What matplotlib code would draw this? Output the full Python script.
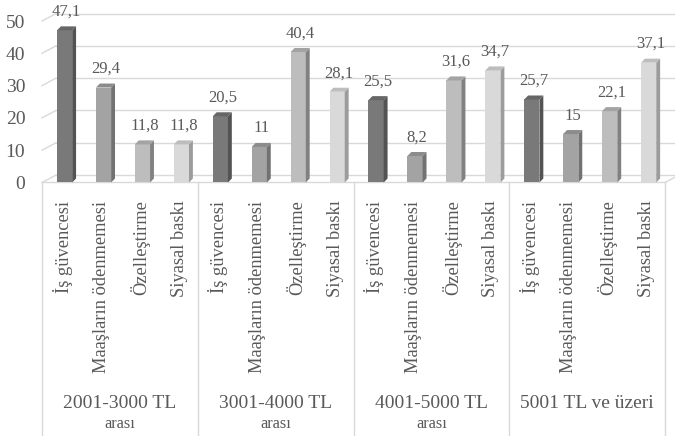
import matplotlib
matplotlib.use("Agg")
import matplotlib.pyplot as plt
from matplotlib.patches import Polygon

plt.rcParams['font.family'] = ['Liberation Serif', 'DejaVu Serif']

groups = ["2001-3000 TL", "3001-4000 TL", "4001-5000 TL", "5001 TL ve üzeri"]
group_sub = ["arası", "arası", "arası", ""]
categories = ["İş güvencesi", "Maaşların ödenmemesi", "Özelleştirme", "Siyasal baskı"]
values = [
    [47.1, 29.4, 11.8, 11.8],
    [20.5, 11, 40.4, 28.1],
    [25.5, 8.2, 31.6, 34.7],
    [25.7, 15, 22.1, 37.1],
]
yticks = [0, 10, 20, 30, 40, 50]

front_cols = ['#797979', '#a3a3a3', '#bdbdbd', '#d9d9d9']
side_cols = ['#535353', '#727272', '#818181', '#9c9c9c']
top_cols = ['#666666', '#8c8c8c', '#a3a3a3', '#bdbdbd']
txt = '#595959'
grid = '#d9d9d9'

W, H = 675, 436
fig = plt.figure(figsize=(W / 100, H / 100), dpi=100)
ax = fig.add_axes([42 / W, (H - 182.5) / H, 623 / W, 161.5 / H])
n = len(groups) * len(categories)
ax.set_xlim(-0.5, n - 0.5)
ax.set_ylim(0, 50)
for s in ax.spines.values():
    s.set_visible(False)
ax.set_xticks([])
ax.set_yticks(yticks)
ax.set_yticklabels([str(t) for t in yticks], fontsize=14, color=txt)
ax.tick_params(axis='y', length=0, pad=12)

# back wall offset (3D look)
wdx, wdy = 0.36, 2.3
for t in yticks:
    ax.plot([-0.5, -0.5 + wdx], [t, t + wdy], color=grid, lw=1, clip_on=False, zorder=1)
    ax.plot([-0.5 + wdx, n - 0.5 + wdx], [t + wdy, t + wdy], color=grid, lw=1, clip_on=False, zorder=1)
# floor
ax.plot([-0.5, n - 0.5], [0, 0], color=grid, lw=1, clip_on=False, zorder=1)
ax.plot([n - 0.5, n - 0.5 + wdx], [0, wdy], color=grid, lw=1, clip_on=False, zorder=1)

# bars
bw, bdx, bdy = 0.39, 0.10, 1.24
for g, vals in enumerate(values):
    for c, v in enumerate(vals):
        i = g * len(categories) + c
        x0 = i + 0.08 - bw / 2
        x1 = x0 + bw
        ax.add_patch(Polygon([(x0, 0), (x1, 0), (x1, v), (x0, v)], closed=True,
                             fc=front_cols[c], ec='none', zorder=3, clip_on=False))
        ax.add_patch(Polygon([(x1, 0), (x1 + bdx, bdy), (x1 + bdx, v + bdy), (x1, v)], closed=True,
                             fc=side_cols[c], ec='none', zorder=3, clip_on=False))
        ax.add_patch(Polygon([(x0, v), (x1, v), (x1 + bdx, v + bdy), (x0 + bdx, v + bdy)], closed=True,
                             fc=top_cols[c], ec='none', zorder=3, clip_on=False))
        lab = ('%g' % v).replace('.', ',')
        ax.text(i + 0.08 + bdx / 2, v + 4.5, lab, ha='center', va='baseline',
                fontsize=12, color=txt, zorder=4)
        ax.text(i + 0.03, -5.6, categories[c], rotation=90, ha='center', va='top',
                fontsize=13.3, color=txt)

# category box lines
for b in range(len(groups) + 1):
    x = b * len(categories) - 0.5
    ax.plot([x, x], [0, -85], color=grid, lw=1, clip_on=False, zorder=1)

for g in range(len(groups)):
    xc = g * len(categories) + (len(categories) - 1) / 2
    ax.text(xc, -68.3, groups[g], ha='center', va='center', fontsize=14, color=txt)
    if group_sub[g]:
        ax.text(xc, -74.8, group_sub[g], ha='center', va='center', fontsize=11.8, color=txt)

fig.savefig("out.png", dpi=100)
